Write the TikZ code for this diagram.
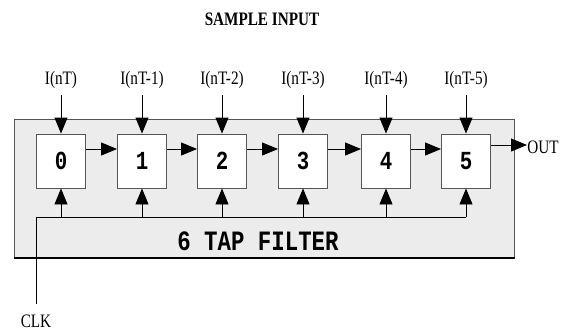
\documentclass[tikz,border=0pt]{standalone}
\usepackage{graphicx}
\usepackage{fontspec}
\setmainfont{Liberation Serif}
\setmonofont{Liberation Mono}
\usetikzlibrary{arrows.meta, positioning, calc}
\definecolor{filtergray}{RGB}{236,236,236}
\definecolor{edgegray}{RGB}{85,85,85}
\newcommand{\squeeze}[1]{\scalebox{0.8}[1]{#1}}

\begin{document}
\begin{tikzpicture}[x=1pt, y=-1pt, line width=0.9pt,
    tap/.style={draw=edgegray, fill=white, minimum width=49pt, minimum height=54pt,
      inner sep=0pt, font=\ttfamily\bfseries\fontsize{26}{26}\selectfont},
    sig/.style={-{Triangle[length=16pt, width=13pt]}},
    lbl/.style={inner sep=0pt, anchor=base, font=\fontsize{19}{19}\selectfont}]
  \useasboundingbox (0,0) rectangle (570,333);

  % filter body
  \node[draw=edgegray, line width=1pt, fill=filtergray, anchor=north west, inner sep=0pt,
    minimum width=500pt, minimum height=138pt] (body) at (14,119) {};
  \draw[line width=1.4pt] (body.south west) -- (body.south east);
  \node[anchor=base, inner sep=0pt, font=\ttfamily\bfseries\fontsize{28}{28}\selectfont]
    (name) at (258,250) {\squeeze{6 TAP FILTER}};
  \node[lbl, font=\bfseries\fontsize{19}{19}\selectfont] (title) at (262,25) {\squeeze{SAMPLE INPUT}};

  % taps and sample inputs
  \foreach \i/\x/\txt in {0/61/I(nT), 1/142/I(nT-1), 2/222/I(nT-2),
      3/303/I(nT-3), 4/386/I(nT-4), 5/466/I(nT-5)} {
    \node[tap] (t\i) at (\x,161) {\squeeze{\i}};
    \node[lbl] (in\i) at (\x,84) {\squeeze{\txt}};
    \coordinate (from\i) at (\x,95);
    \draw[sig] (from\i) -- (t\i.north);
  }
  \foreach \a/\b in {0/1, 1/2, 2/3, 3/4, 4/5}
    \draw[sig] ([yshift=12pt]t\a.east) -- ([yshift=12pt]t\b.west);

  % output
  \node[lbl, anchor=base west] (out) at (527,153) {\squeeze{OUT}};
  \draw[sig] ([yshift=16pt]t5.east) -- ([yshift=16pt]t5.east -| out.west);

  % clock bus
  \node[lbl] (clk) at (36,327) {\squeeze{CLK}};
  \coordinate (bus) at (36,217);
  \draw[shorten <=10pt] (clk.north) -- (bus) -- (bus -| t5.south);
  \foreach \i in {0,...,5}
    \draw[sig] (bus -| t\i.south) -- (t\i.south);
\end{tikzpicture}
\end{document}
